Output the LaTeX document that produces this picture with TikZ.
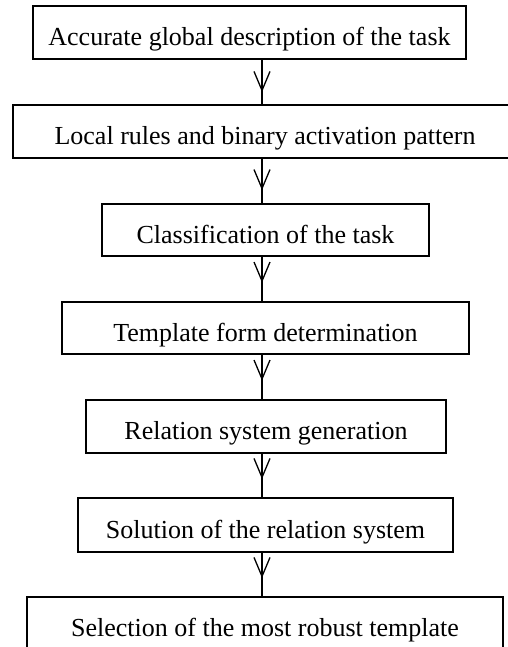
\documentclass[tikz,border=0pt]{standalone}
\usepackage{fontspec}
\setmainfont{Liberation Serif}
\usetikzlibrary{arrows.meta,decorations.markings}
\begin{document}
\begin{tikzpicture}[x=1pt,y=-1pt,
  stepbox/.style={draw=black,line width=1.3pt,rectangle,inner sep=0pt,outer sep=0pt,
    font=\fontsize{26}{30}\selectfont,text height=26pt,text depth=0pt},
  flow/.style={draw=black,line width=1.3pt,postaction={decorate},
    decoration={markings,mark=at position #1 with {\arrow{Straight Barb[length=19pt,width=16pt,line width=1.3pt]}}}},
  flow/.default=0.58]
\useasboundingbox (0,0) rectangle (507,647);
\node[stepbox,minimum width=433pt,minimum height=53pt] (b1) at (249.5,32.5) {Accurate global description of the task};
\node[stepbox,minimum width=504pt,minimum height=53pt] (b2) at (265,131.5) {Local rules and binary activation pattern};
\node[stepbox,minimum width=327pt,minimum height=52pt] (b3) at (265.5,230) {Classification of the task};
\node[stepbox,minimum width=407pt,minimum height=52pt] (b4) at (265.5,328) {Template form determination};
\node[stepbox,minimum width=360pt,minimum height=53pt] (b5) at (266,426.5) {Relation system generation};
\node[stepbox,minimum width=375pt,minimum height=54pt] (b6) at (265.5,525) {Solution of the relation system};
\node[stepbox,minimum width=476pt,minimum height=53pt] (b7) at (265,623.5) {Selection of the most robust template};
\coordinate (cx) at (262,0);
\draw[flow=0.72] (b1.south -| cx) -- (b2.north -| cx);
\draw[flow=0.70] (b2.south -| cx) -- (b3.north -| cx);
\draw[flow] (b3.south -| cx) -- (b4.north -| cx);
\draw[flow] (b4.south -| cx) -- (b5.north -| cx);
\draw[flow] (b5.south -| cx) -- (b6.north -| cx);
\draw[flow] (b6.south -| cx) -- (b7.north -| cx);
\end{tikzpicture}
\end{document}
